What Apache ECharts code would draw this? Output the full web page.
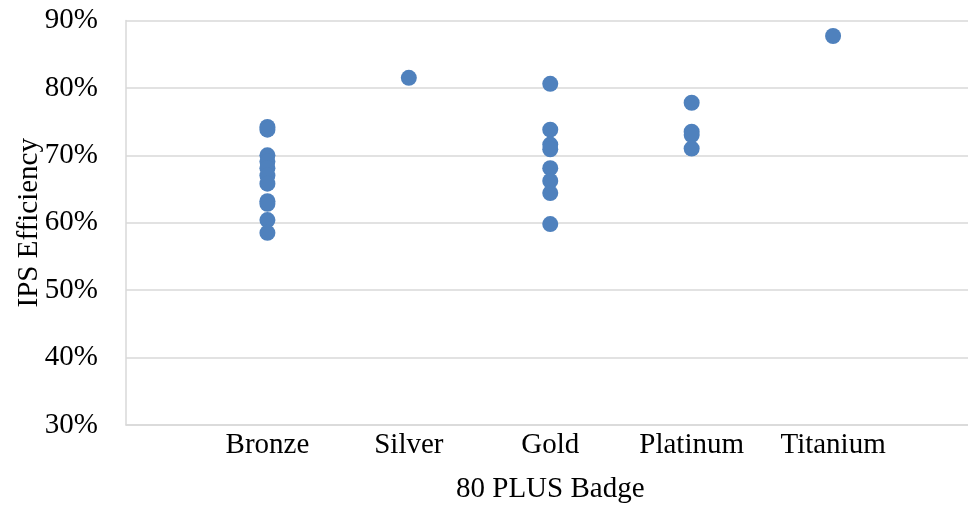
<!DOCTYPE html>
<html>
<head>
<meta charset="utf-8">
<script src="https://cdn.jsdelivr.net/npm/echarts@6/dist/echarts.min.js"></script>
<style>
  html, body { margin: 0; padding: 0; background: #ffffff; width: 968px; height: 506px; overflow: hidden; }
  #wrap { position: relative; width: 968px; height: 506px; overflow: hidden; }
  /* the plot runs slightly past the right edge of the frame */
  #chart { position: absolute; left: 0; top: 0; width: 975px; height: 506px; }
</style>
</head>
<body>
<div id="wrap"><div id="chart"></div></div>
<script>
// 80 PLUS badge levels along the horizontal axis
const badges = ['Bronze', 'Silver', 'Gold', 'Platinum', 'Titanium'];

// IPS efficiency (%) for each unit, grouped by badge
const bronze = [74.2, 73.8, 70.0, 69.1, 68.1, 67.0, 65.8, 63.2, 62.8, 60.4, 58.5];
const silver = [81.5];
const gold = [80.6, 73.8, 71.6, 70.9, 68.1, 66.2, 64.4, 59.8];
const platinum = [77.8, 73.5, 73.0, 71.0];
const titanium = [87.7];

// Y axis ticks (%)
const yTicks = [30, 40, 50, 60, 70, 80, 90];

const groups = [bronze, silver, gold, platinum, titanium];
const points = [];
groups.forEach((vals, i) => vals.forEach(v => points.push([i + 1, v])));

const font = 'Liberation Serif, Times New Roman, serif';
const chart = echarts.init(document.getElementById('chart'), null, { renderer: 'canvas' });
chart.setOption({
  animation: false,
  backgroundColor: '#ffffff',
  grid: { left: 126, right: 0.5, top: 20.5, bottom: 81, containLabel: false, outerBoundsMode: 'none' },
  xAxis: {
    type: 'value',
    min: 0,
    max: badges.length + 1,
    interval: 1,
    name: '80 PLUS Badge',
    nameLocation: 'middle',
    nameGap: 50,
    nameMoveOverlap: false,
    nameTextStyle: { fontFamily: font, fontSize: 29, color: '#000' },
    axisLine: { show: true, lineStyle: { color: '#d9d9d9', width: 1.5 } },
    axisTick: { show: false },
    splitLine: { show: false },
    axisLabel: {
      fontFamily: font, fontSize: 29, color: '#000', margin: 6,
      showMinLabel: true, showMaxLabel: true,
      formatter: v => (v >= 1 && v <= badges.length ? badges[v - 1] : '')
    }
  },
  yAxis: {
    type: 'value',
    min: yTicks[0],
    max: yTicks[yTicks.length - 1],
    interval: 10,
    name: 'IPS Efficiency',
    nameLocation: 'middle',
    nameGap: 82,
    nameMoveOverlap: false,
    nameTextStyle: { fontFamily: font, fontSize: 29, color: '#000' },
    axisLine: { show: true, lineStyle: { color: '#d9d9d9', width: 1.5 } },
    axisTick: { show: false },
    splitLine: { show: true, lineStyle: { color: '#d9d9d9', width: 1.5 } },
    axisLabel: { fontFamily: font, fontSize: 29, color: '#000', margin: 28, formatter: '{value}%' }
  },
  series: [{
    type: 'scatter',
    data: points,
    symbol: 'circle',
    symbolSize: 16,
    itemStyle: { color: '#4F81BD', opacity: 1 },
    clip: false
  }]
});
</script>
</body>
</html>
